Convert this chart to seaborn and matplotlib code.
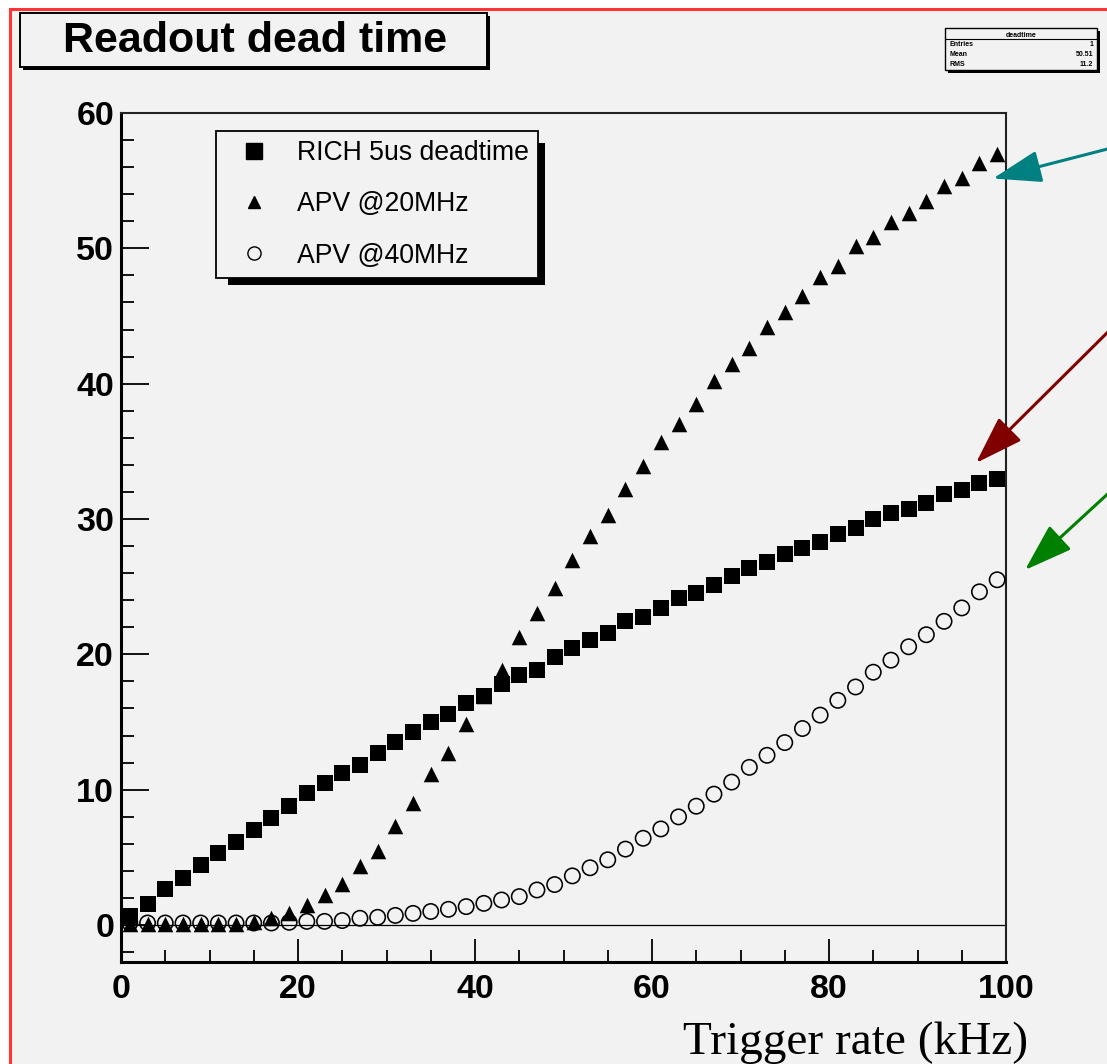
import matplotlib
matplotlib.use("Agg")
import matplotlib.pyplot as plt
import pandas as pd
import seaborn as sns
from matplotlib.patches import Rectangle, FancyArrowPatch
from matplotlib.lines import Line2D
from matplotlib.ticker import MultipleLocator

# ---- data: dead time (%) versus trigger rate (kHz) ----
rate_khz = [1, 3, 5, 7, 9, 11, 13, 15, 17, 19,
            21, 23, 25, 27, 29, 31, 33, 35, 37, 39,
            41, 43, 45, 47, 49, 51, 53, 55, 57, 59,
            61, 63, 65, 67, 69, 71, 73, 75, 77, 79,
            81, 83, 85, 87, 89, 91, 93, 95, 97, 99]

rich_5us = [0.66, 1.55, 2.64, 3.44, 4.43, 5.32, 6.11, 7.00, 7.89, 8.78,
            9.77, 10.47, 11.26, 11.85, 12.74, 13.53, 14.23, 15.02, 15.61, 16.40,
            16.95, 17.79, 18.48, 18.88, 19.77, 20.46, 21.06, 21.55, 22.44, 22.74,
            23.43, 24.13, 24.52, 25.12, 25.81, 26.40, 26.80, 27.39, 27.89, 28.29,
            28.88, 29.37, 29.97, 30.46, 30.76, 31.16, 31.85, 32.15, 32.64, 32.94]

apv_20mhz = [0.10, 0.10, 0.10, 0.10, 0.10, 0.10, 0.10, 0.20, 0.55, 0.86,
             1.46, 2.25, 3.04, 4.33, 5.50, 7.30, 8.98, 11.16, 12.74, 14.82,
             16.90, 18.88, 21.26, 23.04, 24.92, 27.00, 28.78, 30.27, 32.25, 33.93,
             35.71, 37.00, 38.48, 40.17, 41.45, 42.64, 44.22, 45.31, 46.50, 47.89,
             48.68, 50.16, 50.86, 51.95, 52.64, 53.53, 54.62, 55.21, 56.30, 57.00]

apv_40mhz = [0.15, 0.15, 0.15, 0.15, 0.15, 0.15, 0.15, 0.15, 0.15, 0.20,
             0.27, 0.27, 0.33, 0.50, 0.57, 0.71, 0.86, 1.00, 1.16, 1.36,
             1.60, 1.85, 2.10, 2.59, 2.99, 3.63, 4.23, 4.82, 5.61, 6.41,
             7.10, 7.99, 8.78, 9.67, 10.56, 11.65, 12.54, 13.48, 14.52, 15.51,
             16.60, 17.59, 18.68, 19.57, 20.56, 21.45, 22.44, 23.43, 24.62, 25.51]

series_labels = ["RICH 5us deadtime", "APV @20MHz", "APV @40MHz"]
x_ticks = [0, 20, 40, 60, 80, 100]
y_ticks = [0, 10, 20, 30, 40, 50, 60]

title_text = "Readout dead time"
x_label = "Trigger rate (kHz)"
stats_rows = [("Entries", "1"), ("Mean", "50.51"), ("RMS", "11.2")]

df = pd.DataFrame({
    "rate": rate_khz * 3,
    "deadtime": rich_5us + apv_20mhz + apv_40mhz,
    "series": [series_labels[0]] * len(rate_khz)
              + [series_labels[1]] * len(rate_khz)
              + [series_labels[2]] * len(rate_khz),
})

# ---- canvas ----
W, H, DPI = 1107, 1064, 100
BG = "#f2f2f2"

sns.set_style("ticks")
plt.rcParams["font.family"] = ["Liberation Sans", "DejaVu Sans"]
plt.rcParams["text.color"] = "black"
plt.rcParams["axes.labelcolor"] = "black"
plt.rcParams["xtick.color"] = "black"
plt.rcParams["ytick.color"] = "black"

fig = plt.figure(figsize=(W / DPI, H / DPI), dpi=DPI, facecolor="white")


def fr(x0, y0, x1, y1):
    """Pixel box (top-left origin) -> figure-fraction rectangle."""
    return (x0 / W, 1 - y1 / H, (x1 - x0) / W, (y1 - y0) / H)


def fp(x, y):
    return (x / W, 1 - y / H)


# pad area with a red outline on its left and top edges
x0, y0, w, h = fr(10, 8.5, W + 20, H + 20)
fig.add_artist(Rectangle((x0, y0), w, h, transform=fig.transFigure,
                         facecolor=BG, edgecolor="#ff3535", linewidth=2.2,
                         zorder=-10))

# ---- axes ----
ax = fig.add_axes(fr(121, 113, 1006, 961.7))
ax.set_facecolor(BG)

ax.axhline(0, color="black", linewidth=0.9, zorder=1)

sub = df[df["series"] == series_labels[0]]
sns.scatterplot(data=sub, x="rate", y="deadtime", marker="s", s=135,
                color="black", linewidth=0, ax=ax, zorder=3, legend=False)
sub = df[df["series"] == series_labels[1]]
sns.scatterplot(data=sub, x="rate", y="deadtime", marker="^", s=125,
                color="black", linewidth=0, ax=ax, zorder=3, legend=False)
sub = df[df["series"] == series_labels[2]]
sns.scatterplot(data=sub, x="rate", y="deadtime", marker="o", s=122,
                facecolor="none", edgecolor="black", linewidth=1.15,
                ax=ax, zorder=3, legend=False)

ax.set_xlim(0, 100)
ax.set_ylim(-2.71, 60)
ax.set_xlabel("")
ax.set_ylabel("")

ax.set_xticks(x_ticks)
ax.set_yticks(y_ticks)
ax.xaxis.set_minor_locator(MultipleLocator(5))
ax.yaxis.set_minor_locator(MultipleLocator(2))

ax.tick_params(axis="x", which="major", direction="in", length=16.5, width=1.3,
               pad=9, labelsize=24.5, top=False, colors="black")
ax.tick_params(axis="x", which="minor", direction="in", length=8.6, width=1.3,
               top=False, colors="black")
ax.tick_params(axis="y", which="major", direction="in", length=20, width=1.3,
               pad=5, labelsize=24.5, right=False, colors="black")
ax.tick_params(axis="y", which="minor", direction="in", length=9.4, width=1.3,
               right=False, colors="black")
for lab in ax.get_xticklabels() + ax.get_yticklabels():
    lab.set_fontweight("bold")
    lab.set_color("black")

for side in ("left", "bottom"):
    ax.spines[side].set_linewidth(2.2)
    ax.spines[side].set_color("black")
for side in ("top", "right"):
    ax.spines[side].set_linewidth(1.5)
    ax.spines[side].set_color("#222222")

# ---- legend ----
handles = [
    Line2D([], [], linestyle="none", marker="s", markersize=12,
           markerfacecolor="black", markeredgecolor="black"),
    Line2D([], [], linestyle="none", marker="^", markersize=8,
           markerfacecolor="black", markeredgecolor="black"),
    Line2D([], [], linestyle="none", marker="o", markersize=9.5,
           markerfacecolor="none", markeredgecolor="black",
           markeredgewidth=1.0),
]
leg = ax.legend(handles, series_labels, loc="upper left",
                bbox_to_anchor=fp(216, 131), bbox_transform=fig.transFigure,
                fontsize=19.2, frameon=True, fancybox=False, framealpha=1,
                facecolor=BG, edgecolor="black", borderpad=0.34,
                labelspacing=0.95, handlelength=2.2, handletextpad=0.5,
                borderaxespad=0)
leg.get_frame().set_linewidth(1.3)
leg.set_zorder(6)
for t in leg.get_texts():
    t.set_color("black")

fig.canvas.draw()
bb = leg.get_window_extent()
inv = ax.transAxes.inverted()
(sx0, sy0) = inv.transform((bb.x0 + 12, bb.y0 - 7))
(sx1, sy1) = inv.transform((bb.x1 + 7, bb.y1 - 12))
ax.add_patch(Rectangle((sx0, sy0), sx1 - sx0, sy1 - sy0, transform=ax.transAxes,
                       facecolor="black", edgecolor="none", zorder=5,
                       clip_on=False))

# ---- title box with shadow ----
x0, y0, w, h = fr(23, 16, 490, 70)
fig.add_artist(Rectangle((x0, y0), w, h, transform=fig.transFigure,
                         facecolor="black", edgecolor="none", zorder=1))
x0, y0, w, h = fr(20, 13, 487, 67)
fig.add_artist(Rectangle((x0, y0), w, h, transform=fig.transFigure,
                         facecolor=BG, edgecolor="black", linewidth=1.4,
                         zorder=2))
fig.text(*fp(255, 52), title_text, ha="center", va="baseline",
         fontsize=31, fontweight="bold", zorder=3, color="black")

# ---- statistics box ----
x0, y0, w, h = fr(948, 31, 1100, 73)
fig.add_artist(Rectangle((x0, y0), w, h, transform=fig.transFigure,
                         facecolor="black", edgecolor="none", zorder=1))
x0, y0, w, h = fr(945, 28, 1097, 70)
fig.add_artist(Rectangle((x0, y0), w, h, transform=fig.transFigure,
                         facecolor=BG, edgecolor="black", linewidth=1.0,
                         zorder=2))
fig.add_artist(Line2D([945 / W, 1097 / W], [1 - 39 / H, 1 - 39 / H],
                      transform=fig.transFigure, color="black",
                      linewidth=0.8, zorder=3))
fig.text(*fp(1021, 37), "deadtime", ha="center", va="baseline",
         fontsize=5, fontweight="bold", zorder=3)
for i, (name, val) in enumerate(stats_rows):
    yb = 46 + 10 * i
    fig.text(*fp(949, yb), name, ha="left", va="baseline", fontsize=5,
             fontweight="bold", zorder=3)
    fig.text(*fp(1093, yb), val, ha="right", va="baseline", fontsize=5,
             fontweight="bold", zorder=3)

# ---- axis caption ----
fig.text(*fp(1028, 1054), x_label, ha="right", va="baseline", fontsize=34,
         family=["Liberation Serif", "DejaVu Serif"], zorder=3, color="black")

# ---- pointer arrows ----
arrows = [
    ((1125, 144.5), (993, 178.5), "#008080"),
    ((1125, 315), (976, 463), "#800000"),
    ((1125, 478), (1025, 570), "#008000"),
]
for (a, b, col) in arrows:
    fig.add_artist(FancyArrowPatch(fp(*a), fp(*b), transform=fig.transFigure,
                                   arrowstyle="-|>,head_length=30,head_width=10",
                                   mutation_scale=1, color=col, linewidth=2.2,
                                   shrinkA=0, shrinkB=0, zorder=8))

fig.savefig("out.png", dpi=DPI, facecolor="white")
